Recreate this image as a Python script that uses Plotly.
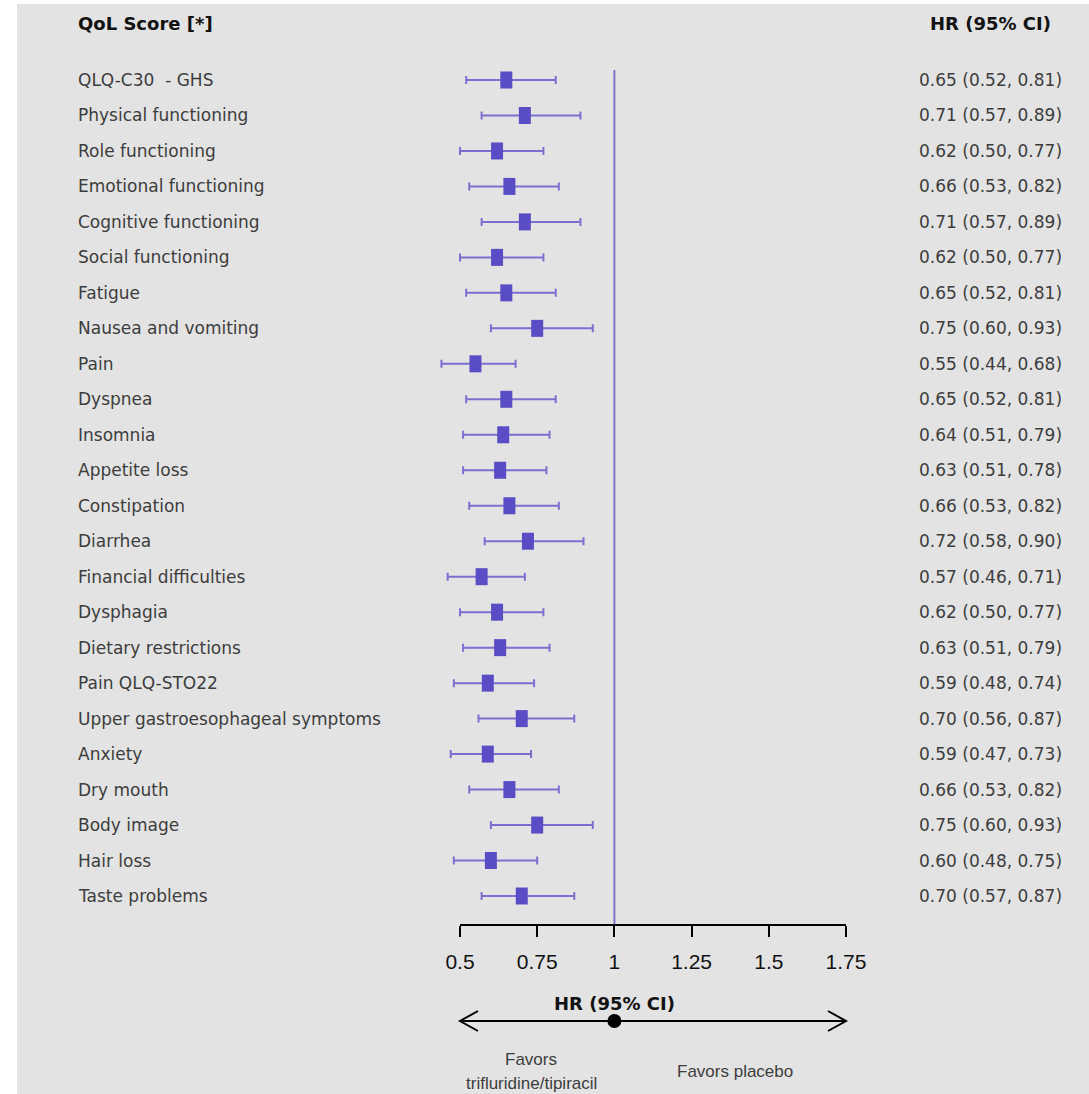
import plotly.graph_objects as go

# ---- data ----
labels = [
    "QLQ-C30  - GHS", "Physical functioning", "Role functioning",
    "Emotional functioning", "Cognitive functioning", "Social functioning",
    "Fatigue", "Nausea and vomiting", "Pain", "Dyspnea", "Insomnia",
    "Appetite loss", "Constipation", "Diarrhea", "Financial difficulties",
    "Dysphagia", "Dietary restrictions", "Pain QLQ-STO22",
    "Upper gastroesophageal symptoms", "Anxiety", "Dry mouth", "Body image",
    "Hair loss", "Taste problems",
]
hr = [0.65, 0.71, 0.62, 0.66, 0.71, 0.62, 0.65, 0.75, 0.55, 0.65, 0.64, 0.63,
      0.66, 0.72, 0.57, 0.62, 0.63, 0.59, 0.70, 0.59, 0.66, 0.75, 0.60, 0.70]
ci_low = [0.52, 0.57, 0.50, 0.53, 0.57, 0.50, 0.52, 0.60, 0.44, 0.52, 0.51, 0.51,
          0.53, 0.58, 0.46, 0.50, 0.51, 0.48, 0.56, 0.47, 0.53, 0.60, 0.48, 0.57]
ci_high = [0.81, 0.89, 0.77, 0.82, 0.89, 0.77, 0.81, 0.93, 0.68, 0.81, 0.79, 0.78,
           0.82, 0.90, 0.71, 0.77, 0.79, 0.74, 0.87, 0.73, 0.82, 0.93, 0.75, 0.87]
tick_vals = [0.5, 0.75, 1, 1.25, 1.5, 1.75]
tick_text = ["0.5", "0.75", "1", "1.25", "1.5", "1.75"]

# ---- geometry ----
W, H = 1089, 1094
PLOT_BOTTOM_PX = 925           # axis line
X_A, X_A_PX = 0.5, 460         # two anchors for the HR scale
X_B, X_B_PX = 1.75, 846
PX_PER_X = (X_B_PX - X_A_PX) / (X_B - X_A)
x_range = [X_A - X_A_PX / PX_PER_X, X_A + (W - X_A_PX) / PX_PER_X]

ROW0_PX, ROWN_PX = 80, 896
n = len(labels)
PX_PER_ROW = (ROWN_PX - ROW0_PX) / (n - 1)
y_range = [(n - 1) + (PLOT_BOTTOM_PX - ROWN_PX) / PX_PER_ROW, -ROW0_PX / PX_PER_ROW]
rows = list(range(n))


def py(px):
    """pixel row -> paper y (plot area spans the top PLOT_BOTTOM_PX pixels)"""
    return (PLOT_BOTTOM_PX - px) / PLOT_BOTTOM_PX


def pxx(px):
    return px / W


BG = "#e3e3e3"
BOX = "#5a4cc4"
LINE = "#7b70cf"
REF = "#7d75c9"
TXT = "#3d3d3d"
FONT = "DejaVu Sans"

fig = go.Figure()

# confidence intervals
fig.add_trace(go.Scatter(
    x=hr, y=rows, mode="markers",
    marker=dict(size=1, color=LINE, opacity=0),
    error_x=dict(type="data", symmetric=False,
                 array=[h - m for m, h in zip(hr, ci_high)],
                 arrayminus=[m - l for m, l in zip(hr, ci_low)],
                 color=LINE, thickness=2, width=4),
    hoverinfo="skip", showlegend=False,
))

# point-estimate boxes (12 x 17 px rectangles)
box_half = 17 / 2 / PX_PER_ROW
fig.add_trace(go.Scatter(
    x=hr, y=rows, mode="markers",
    marker=dict(size=1, color=BOX, opacity=0),
    error_y=dict(type="constant", value=box_half, color=BOX, thickness=12, width=0),
    hoverinfo="skip", showlegend=False,
))

shapes = []
# white page strips on the left and top
shapes.append(dict(type="rect", xref="paper", yref="paper", x0=0, x1=pxx(17),
                   y0=py(H), y1=1, fillcolor="white", line_width=0, layer="below"))
shapes.append(dict(type="rect", xref="paper", yref="paper", x0=0, x1=1,
                   y0=py(4), y1=1, fillcolor="white", line_width=0, layer="below"))
# reference line at HR = 1
shapes.append(dict(type="line", xref="x", yref="y", x0=1, x1=1,
                   y0=(70 - ROW0_PX) / PX_PER_ROW, y1=y_range[0],
                   line=dict(color=REF, width=2)))
# axis line
shapes.append(dict(type="line", xref="x", yref="paper", x0=tick_vals[0], x1=tick_vals[-1],
                   y0=0, y1=0, line=dict(color="black", width=2)))
# direction arrow
ay = py(1021)
hx = 18 / PX_PER_X
hy = 10 / PLOT_BOTTOM_PX
xl, xr = tick_vals[0], tick_vals[-1]
shapes.append(dict(type="line", xref="x", yref="paper", x0=xl, x1=xr, y0=ay, y1=ay,
                   line=dict(color="black", width=2)))
shapes.append(dict(type="path", xref="x", yref="paper",
                   path=f"M {xl + hx},{ay + hy} L {xl},{ay} L {xl + hx},{ay - hy}",
                   line=dict(color="black", width=2)))
shapes.append(dict(type="path", xref="x", yref="paper",
                   path=f"M {xr - hx},{ay + hy} L {xr},{ay} L {xr - hx},{ay - hy}",
                   line=dict(color="black", width=2)))
shapes.append(dict(type="circle", xref="x", yref="paper",
                   xsizemode="pixel", ysizemode="pixel", xanchor=1, yanchor=ay,
                   x0=-7, x1=7, y0=-7, y1=7, fillcolor="black", line_width=0))

annotations = []
# column headers
annotations.append(dict(x=pxx(76), y=py(24), xref="paper", yref="paper", xanchor="left",
                        yanchor="middle", showarrow=False, text="<b>QoL Score [*]</b>",
                        font=dict(family=FONT, size=18, color="#111")))
annotations.append(dict(x=pxx(1053), y=py(24), xref="paper", yref="paper", xanchor="right",
                        yanchor="middle", showarrow=False, text="<b>HR (95% CI)</b>",
                        font=dict(family=FONT, size=18, color="#111")))
# row labels and HR text
for i, (lab, h, lo, hi) in enumerate(zip(labels, hr, ci_low, ci_high)):
    annotations.append(dict(x=pxx(76), y=i, xref="paper", yref="y", xanchor="left",
                            yanchor="middle", showarrow=False, text=lab,
                            font=dict(family=FONT, size=17, color=TXT)))
    annotations.append(dict(x=pxx(1064), y=i, xref="paper", yref="y", xanchor="right",
                            yanchor="middle", showarrow=False,
                            text=f"{h:.2f} ({lo:.2f}, {hi:.2f})",
                            font=dict(family=FONT, size=17, color=TXT)))
# bottom captions
annotations.append(dict(x=1, y=py(1003), xref="x", yref="paper", xanchor="center",
                        yanchor="middle", showarrow=False, text="<b>HR (95% CI)</b>",
                        font=dict(family=FONT, size=18, color="#111")))
annotations.append(dict(x=pxx(531), y=py(1059), xref="paper", yref="paper", xanchor="center",
                        yanchor="middle", showarrow=False, text="Favors",
                        font=dict(family="Liberation Sans", size=17, color=TXT)))
annotations.append(dict(x=pxx(531), y=py(1083), xref="paper", yref="paper", xanchor="center",
                        yanchor="middle", showarrow=False, text="trifluridine/tipiracil",
                        font=dict(family="Liberation Sans", size=17, color=TXT)))
annotations.append(dict(x=pxx(735), y=py(1071), xref="paper", yref="paper", xanchor="center",
                        yanchor="middle", showarrow=False, text="Favors placebo",
                        font=dict(family="Liberation Sans", size=17, color=TXT)))

fig.update_layout(
    width=W, height=H,
    margin=dict(l=0, r=0, t=0, b=H - PLOT_BOTTOM_PX, pad=0, autoexpand=False),
    paper_bgcolor=BG, plot_bgcolor=BG,
    shapes=shapes, annotations=annotations,
    xaxis=dict(range=x_range, showgrid=False, zeroline=False, showline=False,
               tickmode="array", tickvals=tick_vals, ticktext=tick_text,
               ticks="outside", ticklen=11, tickwidth=2, tickcolor="black",
               ticklabelstandoff=7,
               tickfont=dict(family="Liberation Sans", size=21, color="#111"),
               fixedrange=True),
    yaxis=dict(range=y_range, showgrid=False, zeroline=False, showline=False,
               showticklabels=False, ticks="", fixedrange=True),
    showlegend=False,
)

fig.write_html("out.html")
